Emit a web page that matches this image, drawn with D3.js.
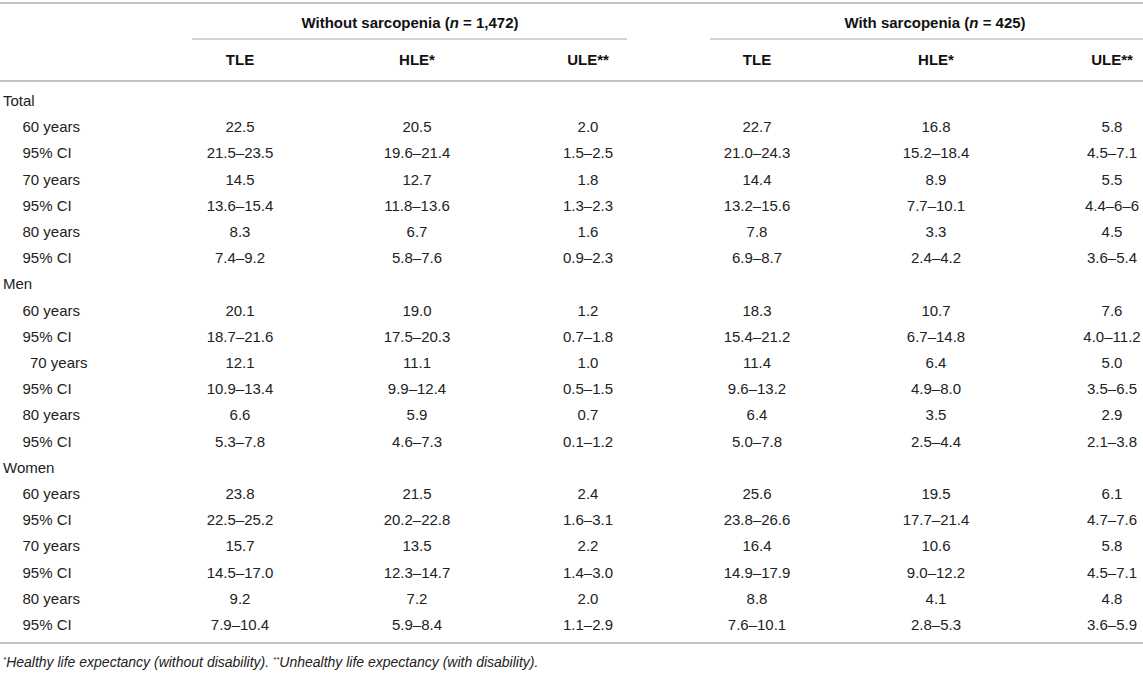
<!DOCTYPE html>
<html>
<head>
<meta charset="utf-8">
<script src="https://cdn.jsdelivr.net/npm/d3@7"></script>
<style>
  html, body { margin: 0; padding: 0; background: #fff; }
  svg { display: block; }
</style>
</head>
<body>
<div id="chart"></div>
<script>
// ---- Data ----
const groupHeaders = [
  { pre: "Without sarcopenia (", n: "n", post: " = 1,472)" },
  { pre: "With sarcopenia (", n: "n", post: " = 425)" }
];
const columnHeaders = ["TLE", "HLE*", "ULE**", "TLE", "HLE*", "ULE**"];
const rowLabels = [
  "Total", "60 years", "95% CI", "70 years", "95% CI", "80 years", "95% CI",
  "Men", "60 years", "95% CI", "70 years", "95% CI", "80 years", "95% CI",
  "Women", "60 years", "95% CI", "70 years", "95% CI", "80 years", "95% CI"
];
const rowLevel = [0,1,1,1,1,1,1, 0,1,1,2,1,1,1, 0,1,1,1,1,1,1];

const withoutTLE = ["", "22.5","21.5–23.5","14.5","13.6–15.4","8.3","7.4–9.2",
  "", "20.1","18.7–21.6","12.1","10.9–13.4","6.6","5.3–7.8",
  "", "23.8","22.5–25.2","15.7","14.5–17.0","9.2","7.9–10.4"];
const withoutHLE = ["", "20.5","19.6–21.4","12.7","11.8–13.6","6.7","5.8–7.6",
  "", "19.0","17.5–20.3","11.1","9.9–12.4","5.9","4.6–7.3",
  "", "21.5","20.2–22.8","13.5","12.3–14.7","7.2","5.9–8.4"];
const withoutULE = ["", "2.0","1.5–2.5","1.8","1.3–2.3","1.6","0.9–2.3",
  "", "1.2","0.7–1.8","1.0","0.5–1.5","0.7","0.1–1.2",
  "", "2.4","1.6–3.1","2.2","1.4–3.0","2.0","1.1–2.9"];
const withTLE = ["", "22.7","21.0–24.3","14.4","13.2–15.6","7.8","6.9–8.7",
  "", "18.3","15.4–21.2","11.4","9.6–13.2","6.4","5.0–7.8",
  "", "25.6","23.8–26.6","16.4","14.9–17.9","8.8","7.6–10.1"];
const withHLE = ["", "16.8","15.2–18.4","8.9","7.7–10.1","3.3","2.4–4.2",
  "", "10.7","6.7–14.8","6.4","4.9–8.0","3.5","2.5–4.4",
  "", "19.5","17.7–21.4","10.6","9.0–12.2","4.1","2.8–5.3"];
const withULE = ["", "5.8","4.5–7.1","5.5","4.4–6–6","4.5","3.6–5.4",
  "", "7.6","4.0–11.2","5.0","3.5–6.5","2.9","2.1–3.8",
  "", "6.1","4.7–7.6","5.8","4.5–7.1","4.8","3.6–5.9"];

const footnoteParts = [
  { sup: "*", text: "Healthy life expectancy (without disability). " },
  { sup: "**", text: "Unhealthy life expectancy (with disability)." }
];

// ---- Layout ----
const W = 1143, H = 682;
const columns = [withoutTLE, withoutHLE, withoutULE, withTLE, withHLE, withULE];
const colIdx = d3.range(columns.length);

const x = d3.scaleOrdinal().domain(colIdx).range([240, 417, 588, 757, 936, 1112]);
const y = d3.scaleLinear().domain([0, rowLabels.length - 1]).range([100.5, 624.5]);
const indent = d3.scaleOrdinal().domain([0, 1, 2]).range([3, 22.5, 30]);

const font = "'Liberation Sans', Arial, Helvetica, sans-serif";
const textColor = "#222";
const lineColor = "#c4c4c4";
const fs = 15;

const svg = d3.select("#chart").append("svg")
  .attr("width", W).attr("height", H)
  .style("font-family", font);

svg.append("rect").attr("width", W).attr("height", H).attr("fill", "#fff");

// horizontal rules
const rules = [
  { x1: 0, x2: W, y: 3, w: 2 },
  { x1: 0, x2: W, y: 81, w: 2 },
  { x1: 0, x2: W, y: 643, w: 2 }
];
svg.selectAll("line.rule").data(rules).join("line")
  .attr("class", "rule")
  .attr("x1", d => d.x1).attr("x2", d => d.x2)
  .attr("y1", d => d.y).attr("y2", d => d.y)
  .attr("stroke", lineColor).attr("stroke-width", d => d.w);

// group spans
const spans = [
  { x1: 192, x2: 627, cx: 410 },
  { x1: 710, x2: W, cx: 935 }
];
svg.selectAll("line.span").data(spans).join("line")
  .attr("class", "span")
  .attr("x1", d => d.x1).attr("x2", d => d.x2)
  .attr("y1", 39).attr("y2", 39)
  .attr("stroke", lineColor).attr("stroke-width", 1.5);

const gh = svg.selectAll("text.group").data(groupHeaders).join("text")
  .attr("class", "group")
  .attr("x", (d, i) => spans[i].cx).attr("y", 27.5)
  .attr("text-anchor", "middle")
  .attr("font-size", fs).attr("font-weight", "bold").attr("fill", "#111");
gh.append("tspan").text(d => d.pre);
gh.append("tspan").attr("font-style", "italic").text(d => d.n);
gh.append("tspan").text(d => d.post);

// column headers
svg.selectAll("text.colhead").data(columnHeaders).join("text")
  .attr("class", "colhead")
  .attr("x", (d, i) => x(i)).attr("y", 65)
  .attr("text-anchor", "middle")
  .attr("font-size", fs).attr("font-weight", "bold").attr("fill", "#111")
  .text(d => d);

// row labels
svg.selectAll("text.rowlabel").data(rowLabels).join("text")
  .attr("class", "rowlabel")
  .attr("x", (d, i) => indent(rowLevel[i]))
  .attr("y", (d, i) => y(i) + 5.5)
  .attr("font-size", fs).attr("fill", textColor)
  .text(d => d);

// cells
const cells = [];
columns.forEach((col, c) => col.forEach((v, r) => { if (v) cells.push({ c, r, v }); }));
svg.selectAll("text.cell").data(cells).join("text")
  .attr("class", "cell")
  .attr("x", d => x(d.c))
  .attr("y", d => y(d.r) + 5.5)
  .attr("text-anchor", "middle")
  .attr("font-size", fs).attr("fill", textColor)
  .text(d => d.v);

// footnote
const fn = svg.append("text")
  .attr("x", 3).attr("y", 667)
  .attr("font-size", 14).attr("font-style", "italic").attr("fill", textColor);
footnoteParts.forEach(p => {
  fn.append("tspan").attr("font-size", 8).attr("dy", -5).text(p.sup);
  fn.append("tspan").attr("dy", 5).text(p.text);
});
</script>
</body>
</html>
